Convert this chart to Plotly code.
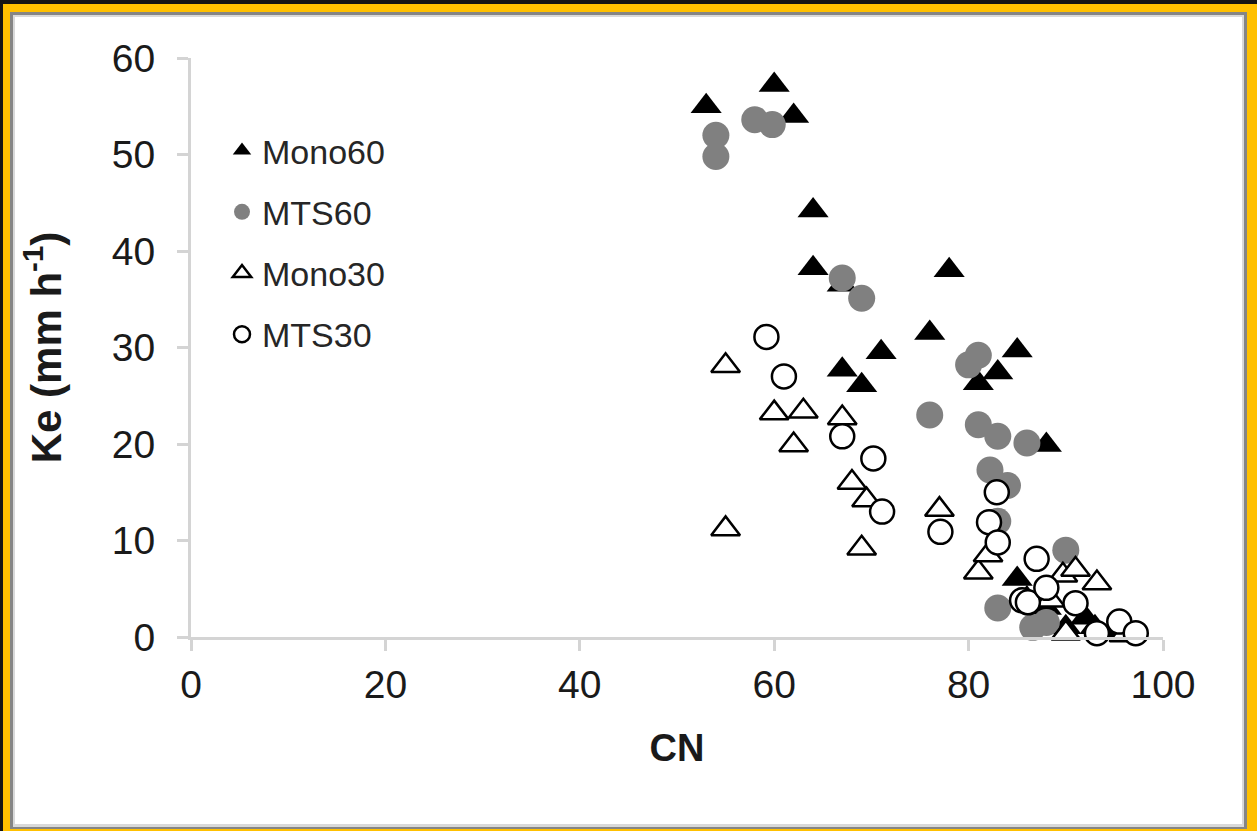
import plotly.graph_objects as go

# ---- data ----
mono60_cn = [53, 60, 62, 64, 64, 67, 67, 69, 71, 76, 78, 81, 83, 85, 88, 85, 86, 88, 90, 92, 93, 95, 96]
mono60_ke = [55, 57.2, 54, 44.2, 38.2, 36.5, 27.7, 26.1, 29.5, 31.5, 38, 26.3, 27.4, 29.7, 19.9, 6, 4, 3, 1, 2, 1, 0.5, 0.2]

mts60_cn = [54, 54, 58, 59.8, 67, 69, 76, 80, 81, 81, 83, 86, 82.2, 84, 83, 90, 83, 86.6, 88]
mts60_ke = [52, 49.8, 53.6, 53.1, 37.2, 35.1, 23, 28.2, 29.2, 22, 20.8, 20.1, 17.3, 15.7, 12, 9, 3, 1, 1.5]

mono30_cn = [55, 55, 60, 63, 62, 67, 68, 69.5, 69, 77, 81, 82, 89.7, 91, 93.2, 90, 88.4, 96]
mono30_ke = [28.1, 11.2, 23.2, 23.4, 19.9, 22.7, 16, 14.2, 9.2, 13.2, 6.7, 8.5, 6.4, 7, 5.6, 0.4, 3.8, 0.2]

mts30_cn = [59.2, 61, 67, 70.2, 71.1, 77.1, 82.9, 82.1, 83, 87, 85.5, 86.1, 88, 91, 93.2, 95.5, 97.2]
mts30_ke = [31.1, 27, 20.8, 18.5, 13, 10.9, 15, 11.9, 9.8, 8.1, 3.8, 3.6, 5.1, 3.5, 0.4, 1.6, 0.4]

x_ticks = [0, 20, 40, 60, 80, 100]
y_ticks = [0, 10, 20, 30, 40, 50, 60]

W, H = 1257, 831
L, R, T, B = 191, 1163, 58, 637  # plot area in pixels


def px(x):
    return (x - L) / (R - L)


def py(y):
    return (B - y) / (B - T)


FONT = "Liberation Sans, Arial, sans-serif"
TXT = "#1a1a1a"

fig = go.Figure()

fig.add_trace(go.Scatter(
    x=mono60_cn, y=mono60_ke, mode="markers", name="Mono60", legendgroup="a",
    marker=dict(symbol="triangle-up", size=27, color="black", line=dict(width=0)),
    cliponaxis=False))
fig.add_trace(go.Scatter(
    x=mts60_cn, y=mts60_ke, mode="markers", name="MTS60", legendgroup="b",
    marker=dict(symbol="circle", size=27, color="#808080", line=dict(width=0)),
    cliponaxis=False))
fig.add_trace(go.Scatter(
    x=mono30_cn, y=mono30_ke, mode="markers", name="Mono30", legendgroup="c",
    marker=dict(symbol="triangle-up", size=25, color="white", line=dict(width=2.5, color="black")),
    cliponaxis=False))
fig.add_trace(go.Scatter(
    x=mts30_cn, y=mts30_ke, mode="markers", name="MTS30", legendgroup="d",
    marker=dict(symbol="circle", size=24, color="white", line=dict(width=2.5, color="black")),
    cliponaxis=False))

# frame: black edge, yellow band, grey lines, white inner panel
shapes = [
    dict(type="rect", xref="paper", yref="paper", x0=px(0), x1=px(W), y0=py(0), y1=py(H),
         fillcolor="#141414", line=dict(width=0), layer="below"),
    dict(type="rect", xref="paper", yref="paper", x0=px(3), x1=px(W), y0=py(4), y1=py(H),
         fillcolor="#FFC000", line=dict(width=0), layer="below"),
    dict(type="rect", xref="paper", yref="paper", x0=px(10), x1=px(1247), y0=py(12), y1=py(829),
         fillcolor="#858585", line=dict(width=0), layer="below"),
    dict(type="rect", xref="paper", yref="paper", x0=px(13), x1=px(1244), y0=py(15), y1=py(827),
         fillcolor="#D9D9D9", line=dict(width=0), layer="below"),
    dict(type="rect", xref="paper", yref="paper", x0=px(15), x1=px(1242), y0=py(17), y1=py(824),
         fillcolor="white", line=dict(width=0), layer="below"),
]

fig.update_layout(
    width=W, height=H,
    margin=dict(l=L, r=W - R, t=T, b=H - B, pad=0),
    paper_bgcolor="#141414",
    plot_bgcolor="rgba(0,0,0,0)",
    shapes=shapes,
    font=dict(family=FONT, color=TXT),
    showlegend=True,
    legend=dict(
        x=px(222), y=py(122), xanchor="left", yanchor="top",
        bgcolor="rgba(0,0,0,0)", font=dict(size=34, color="#262626", family=FONT),
        traceorder="grouped", tracegroupgap=14, itemwidth=30,
    ),
    xaxis=dict(
        range=[0, 100], tickvals=x_ticks, ticktext=[str(v) for v in x_ticks],
        showgrid=False, zeroline=False, showline=True, linecolor="#D4D4D4", linewidth=3,
        ticks="outside", ticklen=11, tickwidth=3, tickcolor="#D4D4D4",
        tickfont=dict(size=39, color=TXT), ticklabelstandoff=0,
        title=dict(text="<b>CN</b>", font=dict(size=38, color=TXT), standoff=30),
    ),
    yaxis=dict(
        range=[0, 60], tickvals=y_ticks, ticktext=[str(v) for v in y_ticks],
        showgrid=False, zeroline=False, showline=True, linecolor="#D4D4D4", linewidth=3,
        ticks="outside", ticklen=11, tickwidth=3, tickcolor="#D4D4D4",
        tickfont=dict(size=39, color=TXT), ticklabelstandoff=14,
        title=dict(text="<b>Ke (mm h<sup>-1</sup>)</b>", font=dict(size=42, color=TXT), standoff=38),
    ),
)

fig.write_html("out.html", config={"displayModeBar": False},
               post_script="document.body.style.margin='0px';")
